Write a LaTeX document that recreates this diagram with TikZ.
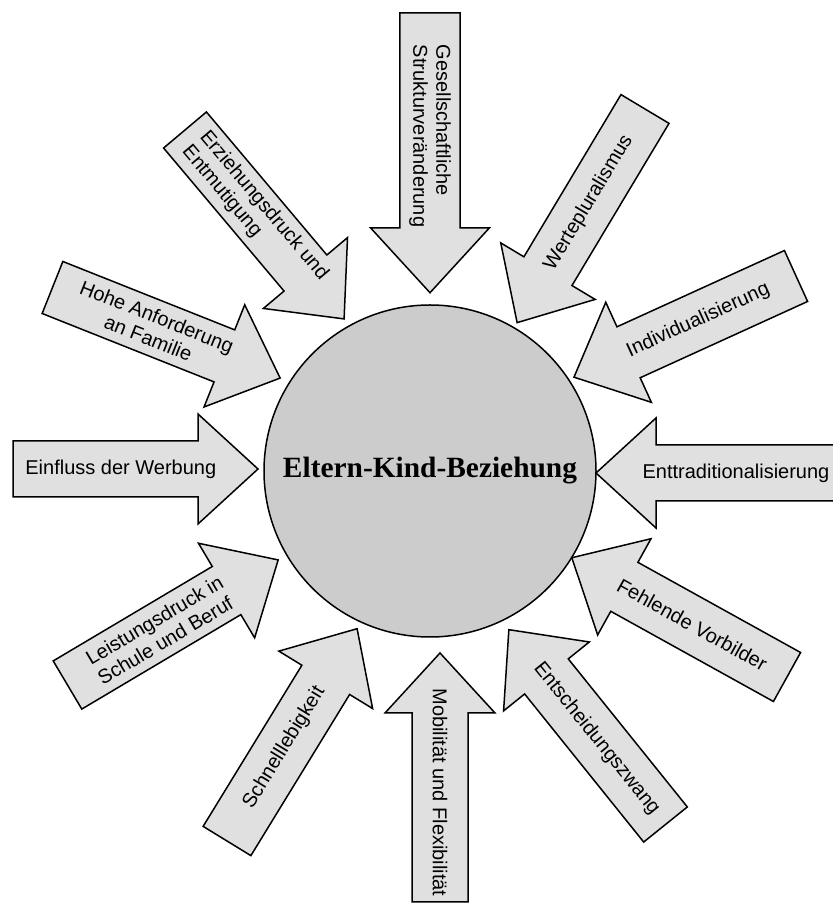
\documentclass[tikz,border=0pt]{standalone}
\usepackage{fontspec}
\setmainfont{Liberation Sans}
\newfontfamily\hubfont{Liberation Serif}
\usepackage{tikz}

\definecolor{arrowgrey}{gray}{0.88}
\definecolor{hubgrey}{gray}{0.80}

\tikzset{
  blockarrow/.style={draw, line width=0.75pt, fill=arrowgrey, line join=miter},
  arrowtext/.style={font=\fontsize{10}{11.5}\selectfont, inner sep=0pt},
}

\begin{document}
\begin{tikzpicture}[x=0.5pt, y=0.5pt]
\useasboundingbox (0,0) rectangle (832,905);
\node[draw, circle, line width=0.75pt, fill=hubgrey, minimum size=166pt, inner sep=0pt,
  font=\hubfont\bfseries\fontsize{14.7}{17}\selectfont] (hub) at (430,434) {Eltern-Kind-Beziehung};
% tail x / tail y / direction / length / size / text angle / align / text
\foreach \tx/\ty/\ang/\len/\s/\rot/\al/\txt [count=\i] in {
  430/892/-90/259/1.08/-90/left/{Gesellschaftliche\\Strukturveränderung},
  645/796/-120.9/249/1/59.1/center/{Wertepluralismus},
  796/629/-155.5/244/1/24.5/center/{Individualisierung},
  846/432/180/250/1/0/center/{Enttraditionalisierung},
  787/228/151/246/1/-29/center/{Fehlende Vorbilder},
  665.5/80.5/128.8/250/1/-51.2/center/{Entscheidungszwang},
  440/3/90/249/1/-90/center/{Mobilität und Flexibilität},
  227/64/58.5/249/1/58.5/center/{Schnelllebigkeit},
  67.5/220/30.7/245/1/30.7/left/{Leistungsdruck in\\Schule und Beruf},
  13/436/0/245/1/0/center/{Einfluss der Werbung},
  52.5/617.5/-21.7/245/1/-21.7/center/{Hohe Anforderung\\an Familie},
  185/775/-49.9/247/1/-49.9/left/{Erziehungsdruck und\\Entmutigung}} {
  \begin{scope}[shift={(\tx,\ty)}, rotate=\ang, scale=\s]
    \draw[blockarrow] (0,-28) -- (\len-60,-28) -- (\len-60,-55) -- (\len,0)
      -- (\len-60,55) -- (\len-60,28) -- (0,28) -- cycle;
    \node[arrowtext, align=\al, rotate=\rot] (a\i) at (0.44*\len,0) {\txt};
  \end{scope}
}
\end{tikzpicture}
\end{document}
